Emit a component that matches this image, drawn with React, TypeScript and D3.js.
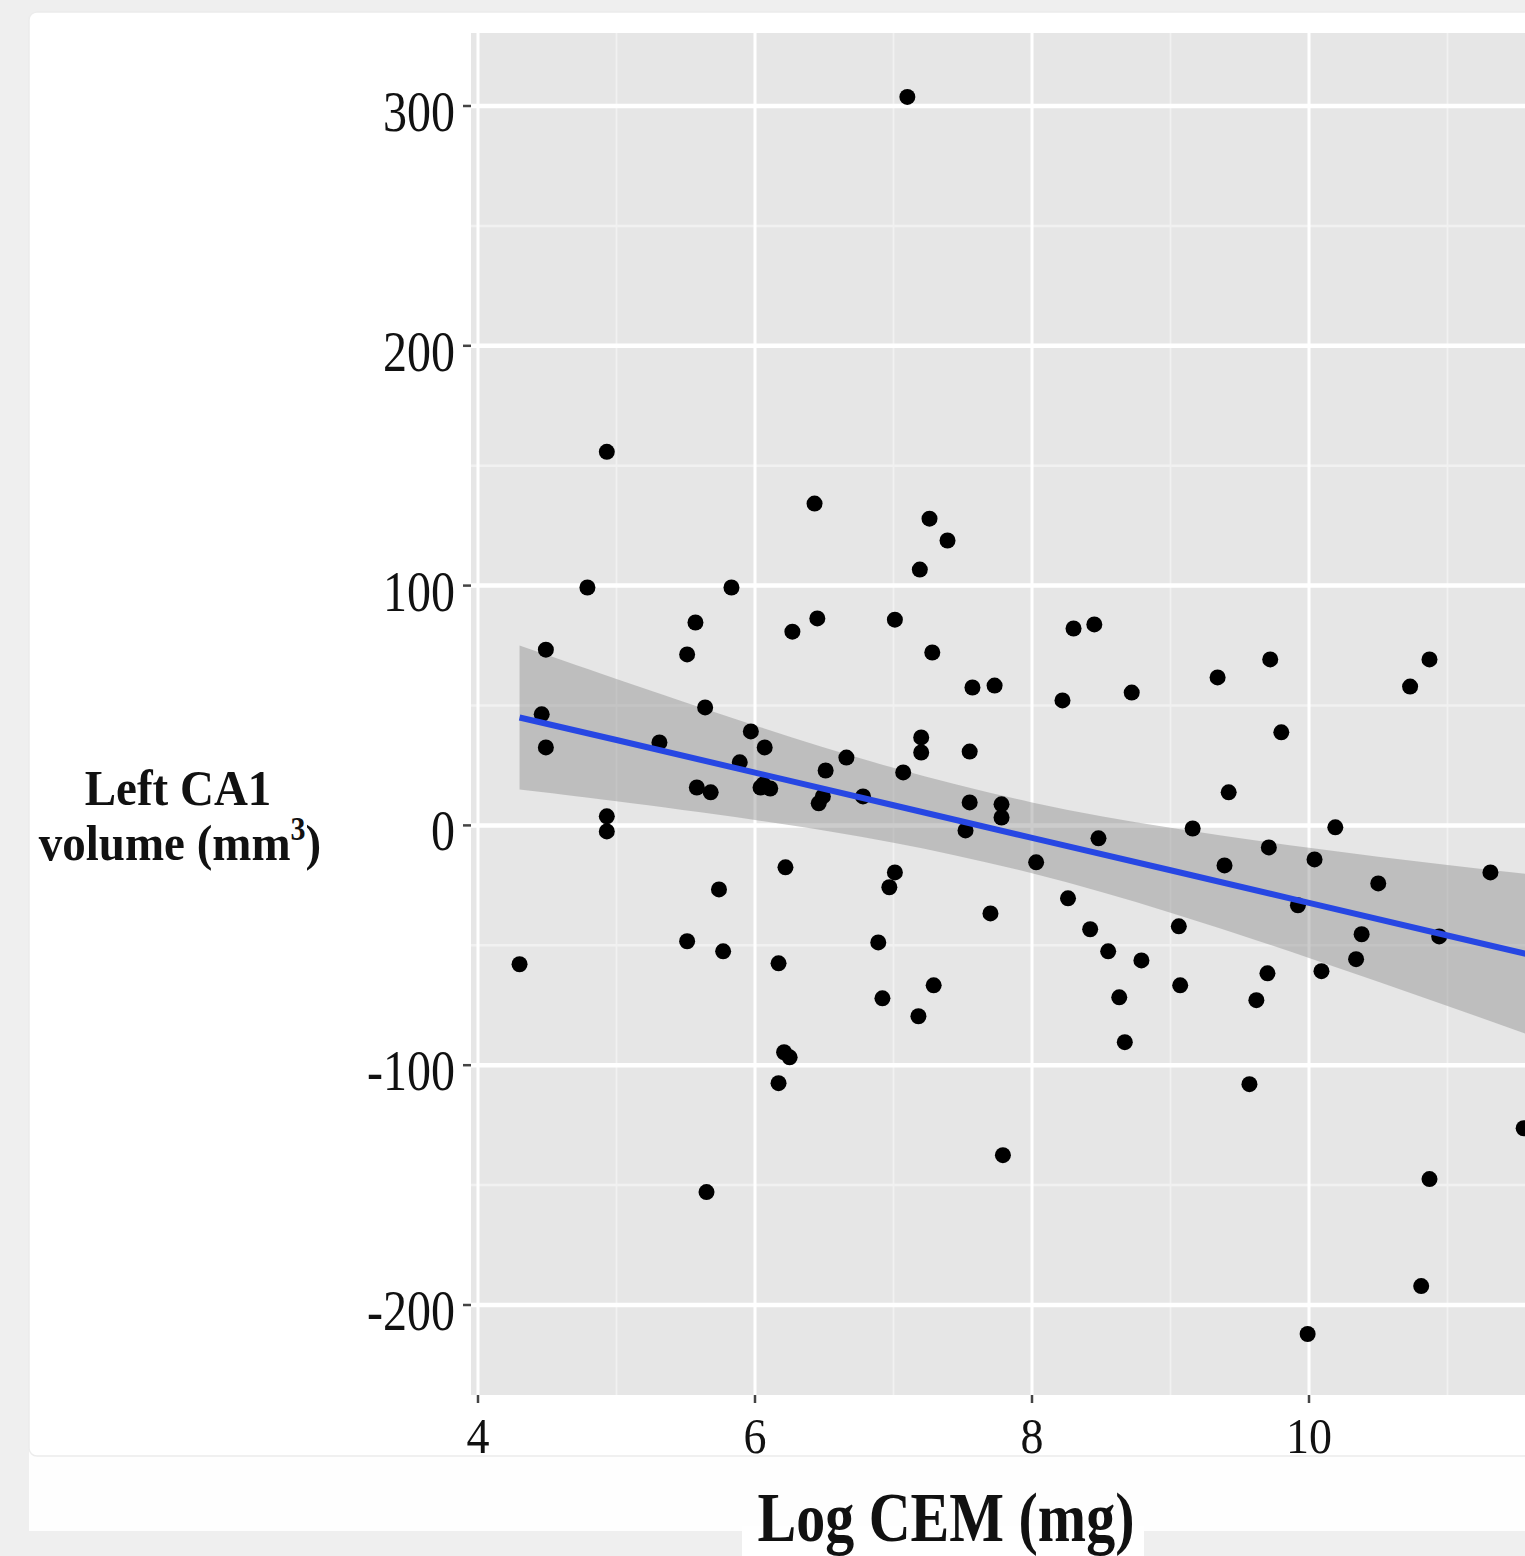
import React from 'react';
import * as d3 from 'd3';

// Log CEM (mg) and left CA1 volume residuals
const logCem = [
  7.10, 4.93, 6.43, 7.26, 7.39, 7.19, 4.79, 5.83, 4.49, 5.57, 5.51, 6.45, 6.27, 7.01, 7.28,
  8.30, 8.45, 9.72, 10.87, 10.73, 9.34, 7.73, 7.57, 8.72, 8.22, 4.46, 4.49, 5.64, 9.80, 5.97,
  5.31, 6.07, 7.20, 7.20, 7.55, 6.66, 5.89, 6.51, 7.07, 5.58, 5.68, 6.04, 6.11, 6.06, 6.78,
  6.49, 6.46, 7.55, 7.78, 9.42, 7.78, 4.93, 4.93, 7.52, 9.16, 10.19, 8.48, 9.71, 10.04, 8.03,
  9.39, 6.22, 7.01, 6.97, 5.74, 10.50, 11.31, 8.26, 9.92, 7.70, 8.42, 9.06, 10.38, 10.94, 5.51,
  6.89, 5.77, 8.55, 10.34, 8.79, 4.30, 6.17, 10.09, 9.70, 7.29, 9.07, 6.92, 8.63, 9.62, 7.18,
  8.67, 6.21, 6.25, 6.17, 9.57, 11.55, 7.79, 10.87, 5.65, 10.81, 9.99,
];
const leftCa1 = [
  303.8, 155.8, 134.2, 127.9, 118.8, 106.7, 99.2, 99.2, 73.3, 84.6, 71.3, 86.3, 80.8, 85.8, 72.1,
  82.1, 83.8, 69.2, 69.2, 57.9, 61.7, 58.3, 57.5, 55.4, 52.1, 46.3, 32.5, 49.2, 38.8, 39.2,
  34.6, 32.5, 36.7, 30.4, 30.8, 28.3, 26.3, 22.9, 22.1, 15.8, 13.8, 15.8, 15.4, 17.1, 12.1,
  12.1, 9.2, 9.6, 8.8, 13.8, 3.3, 3.8, -2.5, -2.1, -1.3, -0.8, -5.4, -9.2, -14.2, -15.4,
  -16.7, -17.5, -19.6, -25.8, -26.7, -24.2, -19.6, -30.4, -33.3, -36.7, -43.3, -42.1, -45.4, -46.3, -48.3,
  -48.8, -52.5, -52.5, -55.8, -56.3, -57.9, -57.5, -60.8, -61.7, -66.7, -66.7, -72.1, -71.7, -72.9, -79.6,
  -90.4, -94.6, -96.7, -107.5, -107.9, -126.3, -137.5, -147.5, -152.9, -192.1, -212.1,
];

// lm smooth with 95% band, read at whole x steps
const smoothX = [4.3, 5, 6, 7, 8, 9, 10, 11, 12];
const smoothFit = [45.0, 35.6, 22.0, 8.4, -5.2, -18.7, -32.3, -45.9, -59.4];
const smoothLower = [15.0, 10.1, 2.3, -7.2, -20.0, -36.4, -55.3, -75.3, -95.8];
const smoothUpper = [75.0, 61.1, 41.7, 24.0, 9.6, -1.0, -9.3, -16.5, -23.0];

const xTicks = [4, 6, 8, 10];
const xMinor = [5, 7, 9, 11];
const yTicks = [-200, -100, 0, 100, 200, 300];
const yMinor = [-150, -50, 50, 150, 250];

const W = 1525;
const H = 1556;
const FONT = "'Liberation Serif', 'Times New Roman', serif";

export default function App() {
  const panel = { left: 471, top: 33, right: 1640, bottom: 1395 };

  const x = d3.scaleLinear().domain([4, 10]).range([478, 1309]);
  const y = d3.scaleLinear().domain([-200, 300]).range([1305, 106]);

  const points = logCem.map((v, i) => ({ x: v, y: leftCa1[i] }));
  const smooth = smoothX.map((v, i) => ({
    x: v, fit: smoothFit[i], lo: smoothLower[i], hi: smoothUpper[i],
  }));

  const band = d3.area<any>()
    .x(d => x(d.x))
    .y0(d => y(d.lo))
    .y1(d => y(d.hi))
    .curve(d3.curveNatural);
  const fitLine = d3.line<any>()
    .x(d => x(d.x))
    .y(d => y(d.fit));

  return (
    <div style={{ position: 'absolute', left: 0, top: 0, width: W, height: H, overflow: 'hidden' }}>
      <svg width={W} height={H} style={{ display: 'block' }}>
        <defs>
          <clipPath id="panel-clip">
            <rect x={panel.left} y={panel.top} width={panel.right - panel.left} height={panel.bottom - panel.top} />
          </clipPath>
        </defs>

        {/* page and card backgrounds */}
        <rect x={0} y={0} width={W} height={H} fill="#efefef" />
        <rect x={29} y={1440} width={W} height={91} fill="#fefefe" />
        <rect x={29} y={12} width={W + 20} height={1444} rx={8} fill="#ffffff" stroke="#ececec" strokeWidth={1.5} />
        <rect x={742} y={1526} width={402} height={H - 1526} fill="#ffffff" />

        {/* panel */}
        <rect x={panel.left} y={panel.top} width={panel.right - panel.left} height={panel.bottom - panel.top} fill="#e6e6e6" />
        <g clipPath="url(#panel-clip)">
          {yMinor.map(v => (
            <line key={'ym' + v} x1={panel.left} x2={panel.right} y1={y(v)} y2={y(v)} stroke="#f1f1f1" strokeWidth={2.5} />
          ))}
          {xMinor.map(v => (
            <line key={'xm' + v} x1={x(v)} x2={x(v)} y1={panel.top} y2={panel.bottom} stroke="#f1f1f1" strokeWidth={1.8} />
          ))}
          {yTicks.map(v => (
            <line key={'yg' + v} x1={panel.left} x2={panel.right} y1={y(v)} y2={y(v)} stroke="#ffffff" strokeWidth={4.5} />
          ))}
          {xTicks.map(v => (
            <line key={'xg' + v} x1={x(v)} x2={x(v)} y1={panel.top} y2={panel.bottom} stroke="#ffffff" strokeWidth={3} />
          ))}

          <path d={band(smooth) || ''} fill="#8f8f8f" fillOpacity={0.45} />

          {points.map((p, i) => (
            <circle key={i} cx={x(p.x)} cy={y(p.y)} r={8} fill="#000000" />
          ))}

          <path d={fitLine(smooth) || ''} fill="none" stroke="#2747e3" strokeWidth={6} />
        </g>

        {/* y axis */}
        {yTicks.map(v => (
          <g key={'yt' + v}>
            <line x1={463} x2={471} y1={y(v)} y2={y(v)} stroke="#444" strokeWidth={2.5} />
            <text
              transform={`translate(455, ${y(v) + 25}) scale(1, 1.17)`}
              textAnchor="end"
              fontFamily={FONT}
              fontSize={48}
              fill="#111"
            >
              {v < 0 ? '-' + Math.abs(v) : String(v)}
            </text>
          </g>
        ))}

        {/* x axis */}
        {xTicks.map(v => (
          <g key={'xt' + v}>
            <line x1={x(v)} x2={x(v)} y1={panel.bottom} y2={panel.bottom + 8} stroke="#444" strokeWidth={2.5} />
            <text
              transform={`translate(${x(v)}, 1453) scale(1, 1.1)`}
              textAnchor="middle"
              fontFamily={FONT}
              fontSize={46}
              fill="#111"
            >
              {v}
            </text>
          </g>
        ))}

        {/* axis titles */}
        <text
          transform="translate(946, 1541) scale(1, 1.22)"
          textAnchor="middle"
          fontFamily={FONT}
          fontWeight="bold"
          fontSize={58}
          fill="#111"
        >
          Log CEM (mg)
        </text>
        <text
          transform="translate(178, 805) scale(1, 1.1)"
          textAnchor="middle"
          fontFamily={FONT}
          fontWeight="bold"
          fontSize={47}
          fill="#111"
        >
          Left CA1
        </text>
        <text
          transform="translate(180, 860) scale(1, 1.1)"
          textAnchor="middle"
          fontFamily={FONT}
          fontWeight="bold"
          fontSize={47}
          fill="#111"
        >
          volume (mm<tspan fontSize={30} dy={-18}>3</tspan><tspan dy={18}>)</tspan>
        </text>
      </svg>
    </div>
  );
}
